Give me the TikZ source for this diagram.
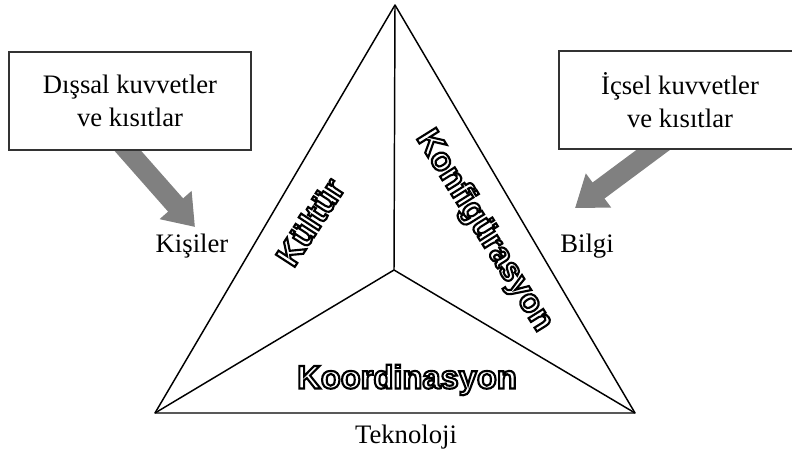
\documentclass[tikz,border=0pt]{standalone}
\usepackage{fontspec}
\setmainfont{Liberation Serif}
\newfontfamily\outlinefont{Liberation Sans}
\usepackage{tikz}
\usetikzlibrary{arrows.meta}
\definecolor{kutukenar}{HTML}{333333}
\definecolor{okgri}{HTML}{808080}
% ici bos (beyaz dolgu, siyah kontur) yazi
\newcommand{\bosyazi}[1]{\special{pdf:literal direct 2 Tr 1.6 w 0 0 0 RG 1 1 1 rg}#1\special{pdf:literal direct 0 Tr 0 g 0 G}}
\tikzset{
  kutu/.style={draw=kutukenar,line width=2.2pt,fill=white,minimum width=181.5pt,
    minimum height=73.5pt,align=center,font=\fontsize{20}{24.5}\selectfont},
  etiket/.style={font=\fontsize{20}{24}\selectfont},
  kalin/.style={font=\outlinefont\bfseries\fontsize{24.5}{28}\selectfont},
  buyukok/.style={draw=okgri,line width=15pt,
    -{Triangle[width=30.5pt,length=22pt]}},
  kenar/.style={line width=1.1pt,line join=round}
}
\begin{document}
\begin{tikzpicture}[x=0.75pt,y=-0.75pt]
				\useasboundingbox (0,0) rectangle (792,456);
				%\draw (0,0) grid (792,456);
				\coordinate (tepe) at (395,5);
				\coordinate (solalt) at (155,413);
				\coordinate (sagalt) at (635,413);
				\coordinate (orta) at (394,270);
				\draw[kenar] (tepe) -- (solalt) -- (sagalt) -- cycle;
				\draw[kenar] (orta) -- (tepe);
				\draw[kenar] (orta) -- (solalt);
				\draw[kenar] (orta) -- (sagalt);
				% oklar
				\coordinate (ucsol) at (195,227);
				\coordinate (ucsag) at (575,208);
				\coordinate (koksol) at (105,125);
				\coordinate (koksag) at (680,130);
				\draw[buyukok] (koksol) -- (ucsol);
				\draw[buyukok] (koksag) -- (ucsag);
				% kutular
				\node[kutu] (dis) at (130,101) {Dışsal kuvvetler\\ve kısıtlar};
				\node[kutu] (ic) at (680,100) {İçsel kuvvetler\\ve kısıtlar};
				% etiketler
				\node[etiket] (kisiler) at (192,246) {Kişiler};
				\node[etiket] (bilgi) at (587,246) {Bilgi};
				\node[etiket] (teknoloji) at (406,437) {Teknoloji};
				\node[kalin,rotate=57] (kultur) at (310,222) {\bosyazi{Kültür}};
				\node[kalin,rotate=-58] (konfig) at (484,231) {\bosyazi{Konfigürasyon}};
				\node[kalin] (koord) at (407,380) {\bosyazi{Koordinasyon}};
\end{tikzpicture}
\end{document}
